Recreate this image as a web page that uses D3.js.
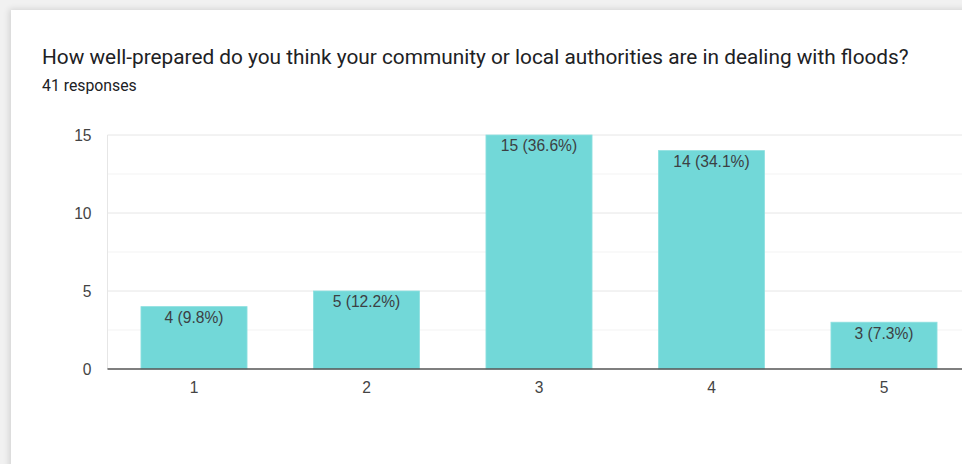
<!DOCTYPE html>
<html>
<head>
<meta charset="utf-8">
<script src="https://cdn.jsdelivr.net/npm/d3@7"></script>
<style>
  html, body { margin: 0; padding: 0; background: #f1f1f1; }
  body { width: 962px; height: 464px; overflow: hidden; position: relative; font-family: Roboto, Arial, sans-serif; }
  .card { position: absolute; left: 11px; top: 10px; width: 980px; height: 480px; background: #fff;
          box-shadow: -2px -1px 6px rgba(0,0,0,0.12); }
  svg { position: absolute; left: 0; top: 0; }
</style>
</head>
<body>
<div class="card"></div>
<svg id="chart" width="962" height="464"></svg>
<script>
const question = "How well-prepared do you think your community or local authorities are in dealing with floods?";
const responseCount = 41;
const categories = ["1", "2", "3", "4", "5"];
const counts = [4, 5, 15, 14, 3];
const percents = ["9.8%", "12.2%", "36.6%", "34.1%", "7.3%"];
const yTicks = [0, 5, 10, 15];
const yMinorTicks = [2.5, 7.5, 12.5];

const chartFont = "'Liberation Sans', Arial, sans-serif";
const chartFontSize = 15.6;
const svg = d3.select("#chart");

svg.append("text")
  .attr("x", 42).attr("y", 64)
  .attr("font-size", 20.8).attr("fill", "#202124")
  .text(question);

svg.append("text")
  .attr("x", 42).attr("y", 91)
  .attr("font-size", 15.8).attr("fill", "#202124")
  .text(responseCount + " responses");

const plotLeft = 107.5, plotTop = 135, plotBottom = 369;

const x = d3.scaleBand()
  .domain(categories)
  .range([107.75, 970.25])
  .paddingInner(0.385)
  .paddingOuter(0.1925);

const y = d3.scaleLinear().domain([0, 15]).range([plotBottom, plotTop]);

const grid = svg.append("g");
grid.selectAll("line.major")
  .data(yTicks.filter(d => d > 0))
  .join("line")
  .attr("x1", plotLeft).attr("x2", 962)
  .attr("y1", d => y(d)).attr("y2", d => y(d))
  .attr("stroke", "#e6e6e6").attr("stroke-width", 1);
grid.selectAll("line.minor")
  .data(yMinorTicks)
  .join("line")
  .attr("x1", plotLeft).attr("x2", 962)
  .attr("y1", d => y(d)).attr("y2", d => y(d))
  .attr("stroke", "#f3f3f3").attr("stroke-width", 1);
grid.append("line")
  .attr("x1", plotLeft).attr("x2", plotLeft)
  .attr("y1", y(15)).attr("y2", plotBottom)
  .attr("stroke", "#e6e6e6");

// y axis labels
const yAxis = svg.append("g")
  .attr("transform", `translate(${plotLeft - 16},0)`)
  .call(d3.axisLeft(y).tickValues(yTicks).tickSize(0).tickPadding(0));
yAxis.select(".domain").remove();
yAxis.selectAll("text")
  .attr("font-family", chartFont)
  .attr("font-size", chartFontSize).attr("fill", "#444").attr("dy", "0.36em");

// bars
svg.append("g").selectAll("rect")
  .data(categories)
  .join("rect")
  .attr("x", d => x(d))
  .attr("y", (d, i) => y(counts[i]))
  .attr("width", x.bandwidth())
  .attr("height", (d, i) => plotBottom - y(counts[i]))
  .attr("fill", "#72d8d8")
  .attr("stroke", "#8ee0e0").attr("stroke-width", 0.8);

// value labels
svg.append("g").selectAll("text")
  .data(categories)
  .join("text")
  .attr("x", d => x(d) + x.bandwidth() / 2)
  .attr("y", (d, i) => y(counts[i]) + 16.3)
  .attr("text-anchor", "middle")
  .attr("font-family", chartFont)
  .attr("font-size", chartFontSize).attr("fill", "#3c4043")
  .text((d, i) => `${counts[i]} (${percents[i]})`);

// baseline and x axis labels
const xAxis = svg.append("g")
  .attr("transform", `translate(0,${plotBottom})`)
  .call(d3.axisBottom(x).tickSize(0).tickPadding(12.5));
xAxis.select(".domain").remove();
xAxis.selectAll("text")
  .attr("font-family", chartFont)
  .attr("font-size", chartFontSize).attr("fill", "#444");
svg.append("line")
  .attr("x1", plotLeft).attr("x2", 962)
  .attr("y1", plotBottom).attr("y2", plotBottom)
  .attr("stroke", "#555").attr("stroke-width", 1.5);
</script>
</body>
</html>
